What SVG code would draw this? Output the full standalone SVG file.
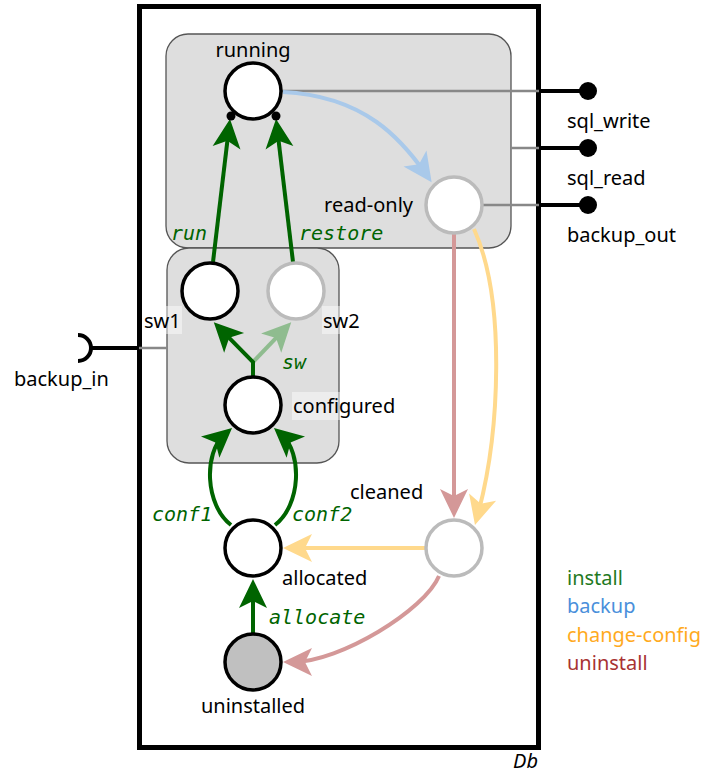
<svg xmlns="http://www.w3.org/2000/svg" width="704" height="778" viewBox="0 0 704 778">
<style>
.t{font-family:"Noto Sans","Open Sans",sans-serif;font-size:20px;fill:#000}
.m{font-family:"DejaVu Sans Mono","Liberation Mono",monospace;font-size:20px;font-style:italic;fill:#006400}
.n{fill:#fff;stroke:#000;stroke-width:3.5}
.ng{fill:#fff;stroke:#bbb;stroke-width:3.5}
.grp{fill:#dedede;stroke:#555;stroke-width:1.3}
.lb{fill:#fff;fill-opacity:0.45}
.e{fill:none;stroke-width:4}
.g{stroke:#006400}
.lg{stroke:#8fbc8f}
.b{stroke:#a9c9ea}
.p{stroke:#d49898}
.y{stroke:#ffd98c}
.pl{stroke:#888;stroke-width:2.5;fill:none}
.pk{stroke:#000;stroke-width:4;fill:none}
</style>
<defs>
<marker id="ag" markerUnits="userSpaceOnUse" viewBox="-20 -15 32 30" markerWidth="32" markerHeight="30" refX="0" refY="0" orient="auto"><path d="M10,0 L-19,-14 L-12,0 L-19,14 Z" fill="#006400"/></marker>
<marker id="alg" markerUnits="userSpaceOnUse" viewBox="-20 -15 32 30" markerWidth="32" markerHeight="30" refX="0" refY="0" orient="auto"><path d="M10,0 L-19,-14 L-12,0 L-19,14 Z" fill="#8fbc8f"/></marker>
<marker id="ab" markerUnits="userSpaceOnUse" viewBox="-20 -15 32 30" markerWidth="32" markerHeight="30" refX="0" refY="0" orient="auto"><path d="M10,0 L-19,-14 L-12,0 L-19,14 Z" fill="#a9c9ea"/></marker>
<marker id="ap" markerUnits="userSpaceOnUse" viewBox="-20 -15 32 30" markerWidth="32" markerHeight="30" refX="0" refY="0" orient="auto"><path d="M10,0 L-19,-14 L-12,0 L-19,14 Z" fill="#d49898"/></marker>
<marker id="ay" markerUnits="userSpaceOnUse" viewBox="-20 -15 32 30" markerWidth="32" markerHeight="30" refX="0" refY="0" orient="auto"><path d="M10,0 L-19,-14 L-12,0 L-19,14 Z" fill="#ffd98c"/></marker>
</defs>
<rect width="704" height="778" fill="#fff"/>
<g id="Db">
<rect x="139.5" y="6.5" width="399" height="741" fill="#fff" stroke="#000" stroke-width="5"/>
<text class="t" x="538" y="768" text-anchor="end" font-style="italic">Db</text>
</g>
<g id="grp-top"><rect class="grp" x="166" y="34" width="345" height="214" rx="22"/></g>
<g id="grp-sw"><rect class="grp" x="167" y="248" width="172" height="215" rx="22"/></g>
<g id="ports">
<path class="pl" d="M281,91 L539,91 M511,148 L539,148 M482,205 L539,205 M167,348 L139,348"/>
<path class="pk" d="M539,91 L588,91 M539,148 L588,148 M539,205 L588,205 M139,348 L91,348"/>
<circle cx="588" cy="91" r="9"/>
<circle cx="588" cy="148" r="9"/>
<circle cx="588" cy="205" r="9"/>
<path class="pk" d="M78,335 A13,13 0 0 1 78,361"/>
<text class="t" x="567" y="128">sql_write</text>
<text class="t" x="567" y="185">sql_read</text>
<text class="t" x="567" y="242">backup_out</text>
<text class="t" x="14" y="386">backup_in</text>
</g>
<g id="connectors">
<path class="e g" d="M213,262 L228.8,128.9" marker-end="url(#ag)"/>
<path class="e g" d="M293,262 L277.2,128.9" marker-end="url(#ag)"/>
<path class="e lg" d="M253,362 L284.3,329.4" marker-end="url(#alg)"/>
<path class="e g" d="M253,378 L253,362 L220.8,329.3" marker-end="url(#ag)"/>
<path class="e g" d="M231,525 C205,505 203.4,453 224.5,434.6" marker-end="url(#ag)"/>
<path class="e g" d="M275,525 C301,505 302.6,453 281.5,434.6" marker-end="url(#ag)"/>
<path class="e g" d="M253,634 L253,589" marker-end="url(#ag)"/>
<path class="e b" d="M283,92 C365,96 402,140 425.9,174.1" marker-end="url(#ab)"/>
<path class="e p" d="M454,233 L454,508" marker-end="url(#ap)"/>
<path class="e y" d="M474,229 C506,300 500,433 477.6,515.4" marker-end="url(#ay)"/>
<path class="e y" d="M425,548 L293,548" marker-end="url(#ay)"/>
<path class="e p" d="M439,576 C425,610 340,662 293,662" marker-end="url(#ap)"/>
<circle cx="231" cy="116" r="4.5"/>
<circle cx="276" cy="116" r="4.5"/>
<text class="m" x="171" y="240">run</text>
<text class="m" x="299" y="240">restore</text>
<text class="m" x="282" y="369">sw</text>
<text class="m" x="152" y="521">conf1</text>
<text class="m" x="292" y="521">conf2</text>
<text class="m" x="269" y="624">allocate</text>
</g>
<g id="running"><circle class="n" cx="253" cy="91" r="28"/><text class="t" x="253" y="57" text-anchor="middle">running</text></g>
<g id="read-only"><circle class="ng" cx="454" cy="205" r="28"/><text class="t" x="413" y="212" text-anchor="end">read-only</text></g>
<g id="sw1"><circle class="n" cx="210" cy="291" r="28"/><rect class="lb" x="143" y="306" width="39" height="28"/><text class="t" x="144" y="328">sw1</text></g>
<g id="sw2"><circle class="ng" cx="296" cy="291" r="28"/><rect class="lb" x="322" y="306" width="40" height="28"/><text class="t" x="323" y="328">sw2</text></g>
<g id="configured"><circle class="n" cx="253" cy="405" r="28"/><rect class="lb" x="292" y="392" width="108" height="28"/><text class="t" x="293" y="413">configured</text></g>
<g id="cleaned"><circle class="ng" cx="454" cy="548" r="28"/><text class="t" x="350" y="499">cleaned</text></g>
<g id="allocated"><circle class="n" cx="253" cy="548" r="28"/><text class="t" x="282" y="585">allocated</text></g>
<g id="uninstalled"><circle class="n" cx="253" cy="662" r="28" style="fill:#c0c0c0"/><text class="t" x="253" y="713" text-anchor="middle">uninstalled</text></g>
<g id="legend">
<text class="t" x="567" y="585" style="fill:#1f7a1f">install</text>
<text class="t" x="567" y="613" style="fill:#4a8fdb">backup</text>
<text class="t" x="567" y="642" style="fill:#ffaa1e">change-config</text>
<text class="t" x="567" y="670" style="fill:#a83232">uninstall</text>
</g>
</svg>
